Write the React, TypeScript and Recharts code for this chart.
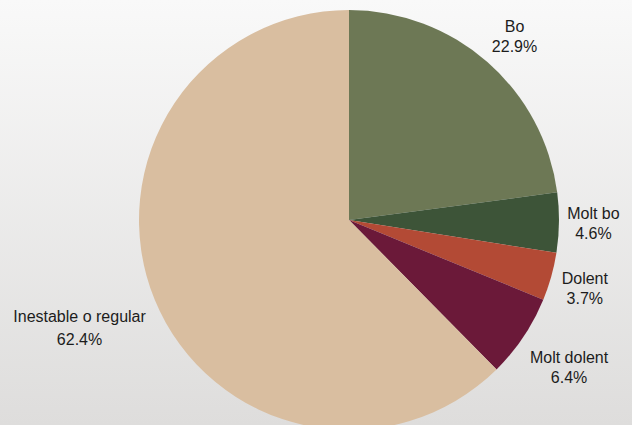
import React from 'react';
import { PieChart, Pie, Cell } from 'recharts';

const categories = ['Bo', 'Molt bo', 'Dolent', 'Molt dolent', 'Inestable o regular'];
const values = [22.9, 4.6, 3.7, 6.4, 62.4];
const COLORS = ['#6d7855', '#3d5438', '#b34a35', '#6b1939', '#d9bea0'];

const data = categories.map((name, i) => ({ name, value: values[i] }));

const FONT = '16px "Liberation Sans", Arial, sans-serif';
const RAD = Math.PI / 180;

let ctx: CanvasRenderingContext2D | null = null;
const measure = (s: string) => {
  if (!ctx) ctx = document.createElement('canvas').getContext('2d');
  if (!ctx) return s.length * 8;
  ctx.font = FONT;
  return ctx.measureText(s).width;
};

const renderLabel = (props: any) => {
  const { cx, cy, midAngle, outerRadius, index } = props;
  const line1 = categories[index];
  const line2 = `${values[index].toFixed(1)}%`;
  const w = Math.max(measure(line1), measure(line2));
  const h = 32;
  const cos = Math.cos(-midAngle * RAD);
  const sin = Math.sin(-midAngle * RAD);
  // labels sit a bit further out where the slice midpoint is steep
  const r = outerRadius + (cos < 0 ? 15 : 8 + 14 * Math.abs(sin));
  const x = cx + r * cos + (cos * w) / 2;
  const drop = cos < 0 ? 16 : Math.max(0, 28 * sin - 3.5);
  const y = cy + r * sin + (sin * h) / 2 + drop;
  const gap = index === 4 ? 23 : 20;
  return (
    <text
      x={x}
      y={y}
      textAnchor="middle"
      fill="#1c1c1c"
      fontSize={16}
      fontFamily='"Liberation Sans", Arial, sans-serif'
    >
      <tspan x={x} y={y - gap / 2 + 6}>{line1}</tspan>
      <tspan x={x} y={y + gap / 2 + 6}>{line2}</tspan>
    </text>
  );
};

export default function App() {
  return (
    <div
      style={{
        position: 'fixed',
        left: 0,
        top: 0,
        width: 632,
        height: 425,
        background: 'linear-gradient(to bottom, #f9f9f9 0%, #dedddc 100%)',
        fontFamily: '"Liberation Sans", Arial, sans-serif',
      }}
    >
      <PieChart width={632} height={425} margin={{ top: 0, right: 0, bottom: 0, left: 0 }}>
        <Pie
          data={data}
          dataKey="value"
          nameKey="name"
          cx={349}
          cy={220}
          outerRadius={210}
          startAngle={90}
          endAngle={-270}
          stroke="none"
          label={renderLabel}
          labelLine={false}
          isAnimationActive={false}
        >
          {data.map((entry, index) => (
            <Cell key={`cell-${index}`} fill={COLORS[index]} />
          ))}
        </Pie>
      </PieChart>
    </div>
  );
}
